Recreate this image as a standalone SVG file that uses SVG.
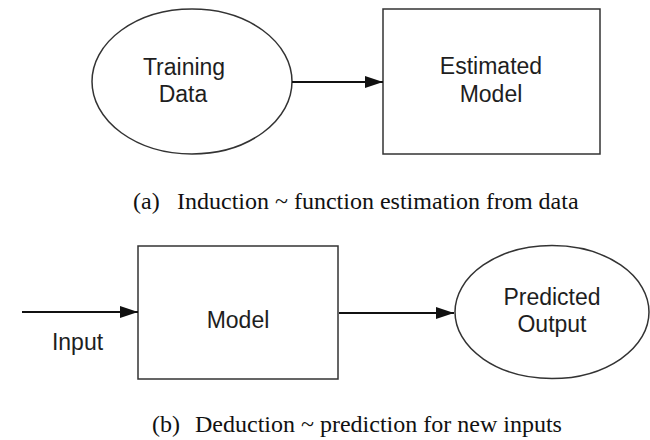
<svg xmlns="http://www.w3.org/2000/svg" width="650" height="440" viewBox="0 0 650 440">
<defs>
<marker id="ah" markerUnits="userSpaceOnUse" markerWidth="18" markerHeight="12" refX="18" refY="6" orient="auto">
<path d="M0,0 L18,6 L0,12 z" fill="#111"/>
</marker>
<style>
.shape{fill:#fff;stroke:#333;stroke-width:1.5}
.lbl{font-family:"Liberation Sans",Arial,sans-serif;font-size:23px;fill:#1e1e1e;text-anchor:middle}
.cap{font-family:"Liberation Serif","Times New Roman",serif;font-size:24px;fill:#111}
.conn{stroke:#111;stroke-width:1.8;fill:none;marker-end:url(#ah)}
</style>
</defs>
<rect width="650" height="440" fill="#fff"/>
<g id="training-data">
<ellipse class="shape" cx="192" cy="81.5" rx="100" ry="72.5"/>
<text class="lbl" x="184" y="75">Training</text>
<text class="lbl" x="183" y="102">Data</text>
</g>
<g id="estimated-model">
<rect class="shape" x="383" y="9" width="217" height="145"/>
<text class="lbl" x="491" y="74">Estimated</text>
<text class="lbl" x="491" y="102">Model</text>
</g>
<g id="caption-a">
<text class="cap" x="133" y="209">(a)</text>
<text class="cap" x="177" y="209">Induction ~ function estimation from data</text>
</g>
<g id="input">
<text class="lbl" x="77.5" y="350">Input</text>
</g>
<g id="model">
<rect class="shape" x="138" y="246" width="200" height="133"/>
<text class="lbl" x="238" y="328">Model</text>
</g>
<g id="predicted-output">
<ellipse class="shape" cx="552" cy="312" rx="97" ry="66.5"/>
<text class="lbl" x="552" y="305">Predicted</text>
<text class="lbl" x="552" y="332">Output</text>
</g>
<g id="caption-b">
<text class="cap" x="152" y="432">(b)</text>
<text class="cap" x="195" y="432">Deduction ~ prediction for new inputs</text>
</g>
<g id="connectors">
<line class="conn" x1="292" y1="82" x2="383" y2="82"/>
<line class="conn" x1="22" y1="312" x2="138" y2="312"/>
<line class="conn" x1="339" y1="313" x2="454" y2="313"/>
</g>
</svg>
